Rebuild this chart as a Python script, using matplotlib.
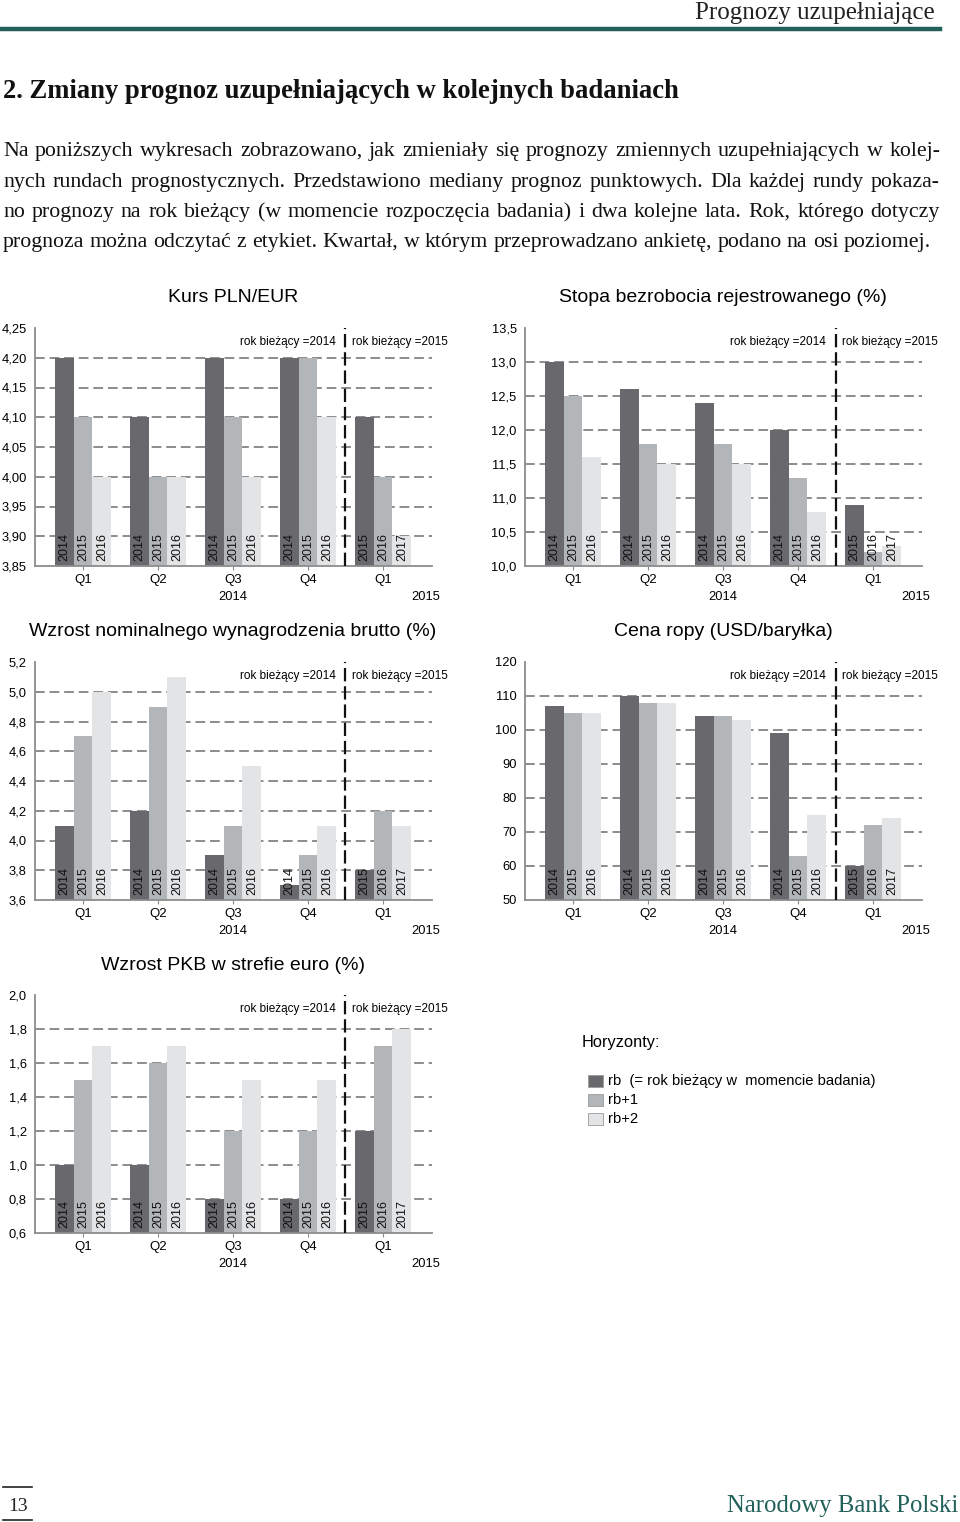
import numpy as np
import matplotlib
matplotlib.use("Agg")
import matplotlib.pyplot as plt
from matplotlib.patches import Rectangle
from matplotlib.ticker import MultipleLocator, FuncFormatter
from matplotlib.transforms import blended_transform_factory

plt.rcParams["font.family"] = ["Liberation Sans", "DejaVu Sans"]

# ---- data -------------------------------------------------------------
ROUNDS = ["Q1", "Q2", "Q3", "Q4", "Q1"]
YEARS = [["2014", "2015", "2016"]] * 4 + [["2015", "2016", "2017"]]

PLN_EUR_RB = [4.20, 4.10, 4.20, 4.20, 4.10]
PLN_EUR_RB1 = [4.10, 4.00, 4.10, 4.20, 4.00]
PLN_EUR_RB2 = [4.00, 4.00, 4.00, 4.10, 3.90]

UNEMP_RB = [13.0, 12.6, 12.4, 12.0, 10.9]
UNEMP_RB1 = [12.5, 11.8, 11.8, 11.3, 10.2]
UNEMP_RB2 = [11.6, 11.5, 11.5, 10.8, 10.3]

WAGE_RB = [4.1, 4.2, 3.9, 3.7, 3.8]
WAGE_RB1 = [4.7, 4.9, 4.1, 3.9, 4.2]
WAGE_RB2 = [5.0, 5.1, 4.5, 4.1, 4.1]

OIL_RB = [107, 110, 104, 99, 60]
OIL_RB1 = [105, 108, 104, 63, 72]
OIL_RB2 = [105, 108, 103, 75, 74]

GDP_RB = [1.0, 1.0, 0.8, 0.8, 1.2]
GDP_RB1 = [1.5, 1.6, 1.2, 1.2, 1.7]
GDP_RB2 = [1.7, 1.7, 1.5, 1.5, 1.8]

PARAGRAPH = [
    "Na poniższych wykresach zobrazowano, jak zmieniały się prognozy zmiennych uzupełniających w kolej-",
    "nych rundach prognostycznych. Przedstawiono mediany prognoz punktowych. Dla każdej rundy pokaza-",
    "no prognozy na rok bieżący (w momencie rozpoczęcia badania) i dwa kolejne lata. Rok, którego dotyczy",
    "prognoza można odczytać z etykiet. Kwartał, w którym przeprowadzano ankietę, podano na osi poziomej.",
]

# ---- style ------------------------------------------------------------
COL_RB = "#69696d"
COL_RB1 = "#b3b6b9"
COL_RB2 = "#e3e4e6"
COL_GRID = "#8c8c8c"
COL_TEAL = "#22605a"
SERIF = ["Liberation Serif", "DejaVu Serif"]

W, H = 960, 1522
BW = 0.253
AX_W, AX_H = 397, 238

fig = plt.figure(figsize=(W / 100, H / 100), dpi=100)
renderer = fig.canvas.get_renderer()


def fx(px):
    return px / W


def fy(py):
    return 1 - py / H


def width_of(t):
    return t.get_window_extent(renderer=renderer).width


def justify(line, baseline, left, right, fontsize, **kw):
    words = line.split()
    texts = [fig.text(0, fy(baseline), w, va="baseline", fontsize=fontsize, **kw) for w in words]
    widths = [width_of(t) for t in texts]
    gap = (right - left - sum(widths)) / (len(words) - 1)
    x = left
    for t, w in zip(texts, widths):
        t.set_x(fx(x))
        x += w + gap


def bar_chart(left, top, title, rb, rb1, rb2, ylim, step, decimals):
    ax = fig.add_axes([fx(left), fy(top + AX_H), AX_W / W, AX_H / H])
    x = np.arange(len(ROUNDS))
    series = [rb, rb1, rb2]
    cols = [COL_RB, COL_RB1, COL_RB2]
    trans = blended_transform_factory(ax.transData, ax.transAxes)
    for j, (vals, col) in enumerate(zip(series, cols)):
        xs = x + (j - 1) * BW
        ax.bar(xs, vals, BW, color=col, zorder=2, linewidth=0)
        for xi, lab in zip(xs, [y[j] for y in YEARS]):
            ax.text(xi, 0.022, lab, rotation=90, ha="center", va="bottom",
                    fontsize=9, color="#111111", transform=trans, zorder=3)
    ax.set_xlim(-0.64, -0.64 + AX_W / 75)
    ax.set_ylim(*ylim)
    ax.yaxis.set_major_locator(MultipleLocator(step))
    ax.yaxis.set_major_formatter(FuncFormatter(
        lambda v, p: f"{v:.{decimals}f}".replace(".", ",")))
    for v in np.arange(ylim[0] + step, ylim[1] - step / 2, step):
        ax.axhline(v, color=COL_GRID, lw=1.4, ls=(0, (5, 2.5)), zorder=1)
    ax.axvline(3.5, color="#111111", lw=1.6, ls=(0, (6, 2.2)), zorder=4)
    ax.text(3.5 - 0.13, 0.94, "rok bieżący =2014", ha="right", va="center",
            fontsize=8.5, transform=trans)
    ax.text(3.5 + 0.09, 0.94, "rok bieżący =2015", ha="left", va="center",
            fontsize=8.5, transform=trans)
    ax.set_xticks(x)
    ax.set_xticklabels(ROUNDS)
    ax.tick_params(axis="x", length=3, width=0.8, color=COL_GRID, pad=3, labelsize=9.5)
    ax.tick_params(axis="y", length=0, pad=6, labelsize=9.3)
    for s in ("top", "right"):
        ax.spines[s].set_visible(False)
    for s in ("left", "bottom"):
        ax.spines[s].set_color(COL_GRID)
        ax.spines[s].set_linewidth(1.3)
    fig.text(fx(left + 198), fy(top - 30), title, ha="center", va="center", fontsize=14)
    fig.text(fx(left + 198), fy(top + AX_H + 31), "2014", ha="center", va="center", fontsize=9.3)
    fig.text(fx(left + 391), fy(top + AX_H + 31), "2015", ha="center", va="center", fontsize=9.3)
    return ax


# ---- page header --------------------------------------------------------
fig.text(fx(935), fy(19), "Prognozy uzupełniające", ha="right", va="baseline",
         fontsize=18, family=SERIF, color="#222222")
fig.add_artist(plt.Line2D([fx(1), fx(940)], [fy(29), fy(29)], color=COL_TEAL, lw=3.2))
fig.text(fx(3), fy(98), "2. Zmiany prognoz uzupełniających w kolejnych badaniach",
         ha="left", va="baseline", fontsize=19.2, family=SERIF, weight="bold", color="#111111")

probe = fig.text(0, 0, PARAGRAPH[3], fontsize=13, family=SERIF)
fs = 13 * 925 / width_of(probe)
probe.remove()
for line, base, right in zip(PARAGRAPH, [156, 187, 217, 247], [940, 940, 940, 931]):
    justify(line, base, 3, right, fs, family=SERIF, color="#111111")

# ---- charts -----------------------------------------------------------
bar_chart(35, 328, "Kurs PLN/EUR", PLN_EUR_RB, PLN_EUR_RB1, PLN_EUR_RB2,
          (3.85, 4.25), 0.05, 2)
bar_chart(525, 328, "Stopa bezrobocia rejestrowanego (%)", UNEMP_RB, UNEMP_RB1, UNEMP_RB2,
          (10.0, 13.5), 0.5, 1)
bar_chart(35, 662, "Wzrost nominalnego wynagrodzenia brutto (%)", WAGE_RB, WAGE_RB1, WAGE_RB2,
          (3.6, 5.2), 0.2, 1)
bar_chart(525, 662, "Cena ropy (USD/baryłka)", OIL_RB, OIL_RB1, OIL_RB2,
          (50, 120), 10, 0)
bar_chart(35, 995, "Wzrost PKB w strefie euro (%)", GDP_RB, GDP_RB1, GDP_RB2,
          (0.6, 2.0), 0.2, 1)

# ---- legend -----------------------------------------------------------
fig.text(fx(582), fy(1042), "Horyzonty:", ha="left", va="center", fontsize=11.8)
legend_items = ["rb  (= rok bieżący w  momencie badania)", "rb+1", "rb+2"]
for i, (lab, col) in enumerate(zip(legend_items, [COL_RB, COL_RB1, COL_RB2])):
    yc = 1081 + i * 19
    fig.add_artist(Rectangle((fx(588), fy(yc + 6)), 15 / W, 12 / H, transform=fig.transFigure,
                             facecolor=col, edgecolor="#9a9a9a", lw=0.6))
    fig.text(fx(608), fy(yc), lab, ha="left", va="center", fontsize=10.6)

# ---- footer -----------------------------------------------------------
fig.add_artist(plt.Line2D([fx(3), fx(32)], [fy(1487), fy(1487)], color="#222222", lw=1.2))
fig.add_artist(plt.Line2D([fx(3), fx(32)], [fy(1520), fy(1520)], color="#222222", lw=1.2))
fig.text(fx(18), fy(1511), "13", ha="center", va="baseline", fontsize=14, family=SERIF,
         color="#222222")
fig.text(fx(958), fy(1512), "Narodowy Bank Polski", ha="right", va="baseline", fontsize=17.8,
         family=SERIF, color=COL_TEAL)

fig.savefig("out.png", dpi=100)
